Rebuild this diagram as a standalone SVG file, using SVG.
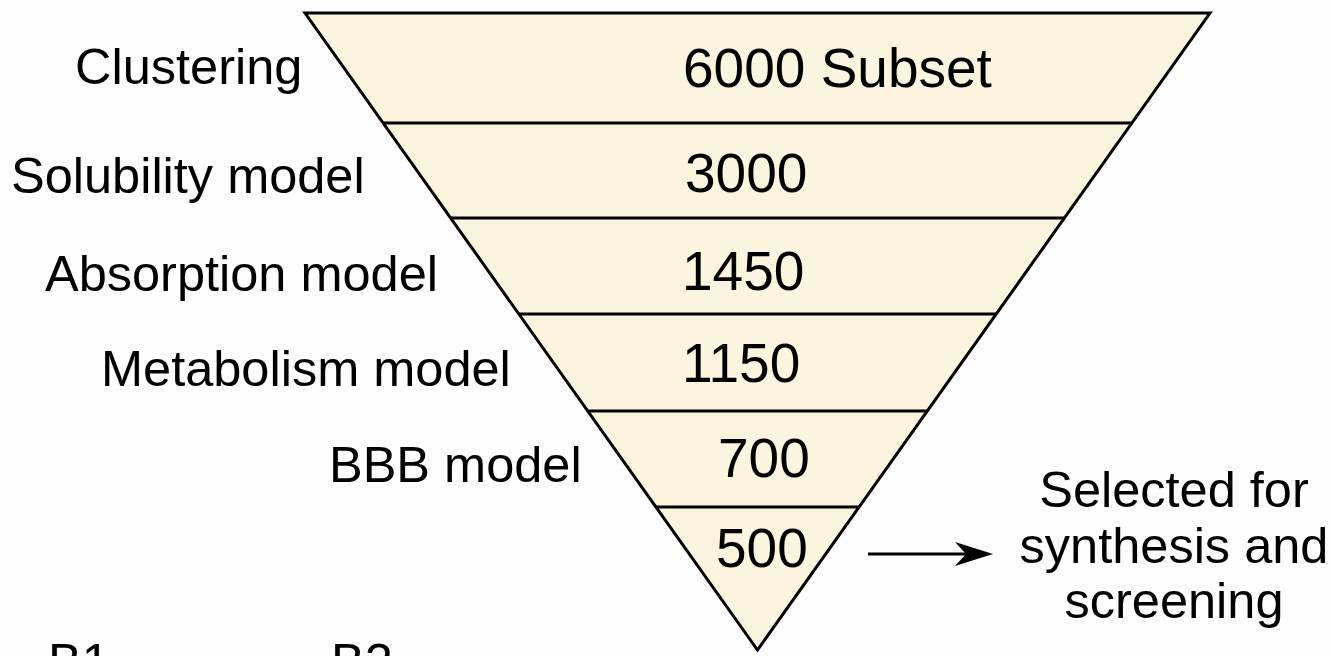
<svg xmlns="http://www.w3.org/2000/svg" width="1332" height="656" viewBox="0 0 1332 656">
  <style>
    .bg { fill: #fdfdfd; }
    .funnel { fill: #fbf4de; stroke: #000; stroke-width: 3; stroke-linejoin: miter; }
    .divider { stroke: #000; stroke-width: 3; }
    .label { font-family: "Liberation Sans", Arial, sans-serif; font-size: 50.5px; fill: #000; }
    .num { font-family: "Liberation Sans", Arial, sans-serif; font-size: 55px; fill: #000; }
    .out { font-family: "Liberation Sans", Arial, sans-serif; font-size: 50.5px; fill: #000; text-anchor: middle; }
    .conn { stroke: #000; stroke-width: 3; fill: none; }
  </style>
  <defs>
    <marker id="arrowhead" markerUnits="userSpaceOnUse" viewBox="0 0 38 24" refX="20" refY="12" markerWidth="38" markerHeight="24" orient="auto">
      <path d="M0,0 L38,12 L0,24 L11,12 Z" fill="#000"/>
    </marker>
  </defs>

  <rect class="bg" x="0" y="0" width="1332" height="656"/>

  <g id="funnel">
    <polygon class="funnel" points="305,13 1210,13 757.5,650"/>
    <line class="divider" x1="383.1" y1="123" x2="1131.9" y2="123"/>
    <line class="divider" x1="450.6" y1="218" x2="1064.4" y2="218"/>
    <line class="divider" x1="518.8" y1="314" x2="996.2" y2="314"/>
    <line class="divider" x1="587.7" y1="411" x2="927.3" y2="411"/>
    <line class="divider" x1="655.9" y1="507" x2="859.1" y2="507"/>
  </g>

  <g id="stage-clustering">
    <text class="label" x="75" y="84">Clustering</text>
    <text class="num" x="683" y="87">6000 Subset</text>
  </g>
  <g id="stage-solubility">
    <text class="label" x="11" y="193">Solubility model</text>
    <text class="num" x="685" y="192">3000</text>
  </g>
  <g id="stage-absorption">
    <text class="label" x="45" y="291">Absorption model</text>
    <text class="num" x="682" y="290">1450</text>
  </g>
  <g id="stage-metabolism">
    <text class="label" x="101" y="386">Metabolism model</text>
    <text class="num" x="682" y="382">1150</text>
  </g>
  <g id="stage-bbb">
    <text class="label" x="329" y="482">BBB model</text>
    <text class="num" x="718" y="477">700</text>
  </g>
  <g id="stage-final">
    <text class="num" x="716" y="567">500</text>
  </g>

  <g id="output">
    <text class="out" x="1174" y="507">Selected for</text>
    <text class="out" x="1174" y="563">synthesis and</text>
    <text class="out" x="1174" y="618">screening</text>
  </g>

  <g id="connectors">
    <line class="conn" x1="868" y1="554" x2="975" y2="554" marker-end="url(#arrowhead)"/>
  </g>

  <g id="footer-labels">
    <text class="label" x="48" y="679">B1</text>
    <text class="label" x="331" y="679">B2</text>
  </g>
</svg>
